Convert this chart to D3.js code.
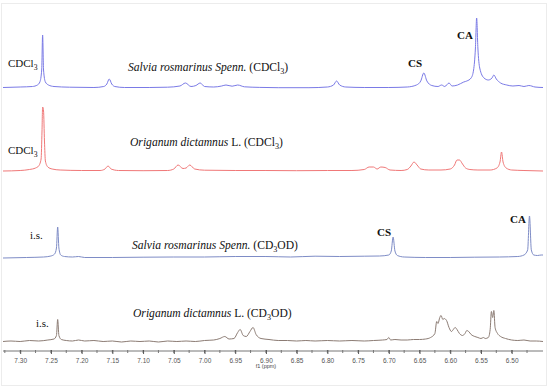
<!DOCTYPE html>
<html>
<head>
<meta charset="utf-8">
<script src="https://cdn.jsdelivr.net/npm/d3@7"></script>
<style>
  html, body { margin: 0; padding: 0; background: #fff; }
  svg text { font-family: "Liberation Serif", "Times New Roman", serif; }
</style>
</head>
<body>
<div id="chart"></div>
<script>
// chemical shift (ppm), intensity above baseline
const salviaCDCl3 = [
  [7.328,0.5],[7.300,1],[7.280,1.5],[7.272,3],[7.268,6],[7.265,18],[7.2635,53],[7.262,18],[7.259,6],[7.254,3],
  [7.245,1.5],[7.220,0.8],[7.180,0.5],[7.164,1.5],[7.159,4],[7.155,9],[7.151,4],[7.146,1.5],[7.130,0.5],[7.090,0.5],
  [7.060,0.8],[7.040,2],[7.031,5],[7.022,1.5],[7.014,2.5],[7.007,5],[7.000,1.5],[6.985,1],[6.972,2],[6.965,3],
  [6.955,1.8],[6.946,3],[6.935,1.2],[6.910,0.6],[6.880,0.3],[6.830,0.3],[6.800,1],[6.790,3],[6.785,7],[6.780,3],
  [6.770,1],[6.740,0.5],[6.700,0.5],[6.670,1],[6.655,3],[6.648,7],[6.643,15],[6.638,7],[6.630,2.5],[6.620,1.5],
  [6.614,3],[6.609,1.5],[6.602,5],[6.597,2],[6.588,3],[6.578,6],[6.573,7],[6.566,10],[6.562,18],[6.559,40],
  [6.557,70],[6.555,40],[6.552,20],[6.545,10],[6.538,8],[6.532,10],[6.529,13],[6.525,9],[6.518,5],[6.508,3],
  [6.498,2],[6.488,2.5],[6.480,1.5],[6.472,2.5],[6.462,1],[6.449,0.5]
];
const origanumCDCl3 = [
  [7.328,0],[7.300,0.5],[7.285,1.5],[7.275,3],[7.270,5],[7.266,12],[7.2645,40],[7.2635,64],[7.262,60],[7.2605,30],
  [7.259,10],[7.255,4],[7.248,2],[7.235,1],[7.200,0.5],[7.170,0.5],[7.162,2],[7.157,5],[7.152,2],[7.140,0.5],
  [7.100,0.3],[7.060,0.5],[7.050,2],[7.043,6],[7.035,2.5],[7.030,3],[7.024,6],[7.016,2],[7.000,0.8],[6.950,0.5],
  [6.900,0.5],[6.850,0.3],[6.800,0.5],[6.760,0.5],[6.740,1.5],[6.732,4],[6.725,4],[6.719,2],[6.713,4],[6.706,3.5],
  [6.698,1],[6.680,0.5],[6.670,1.5],[6.664,5],[6.659,9],[6.654,6],[6.648,2],[6.635,1],[6.615,1],[6.600,2],
  [6.593,6],[6.589,11],[6.585,11],[6.580,7],[6.575,3],[6.568,1.5],[6.555,1],[6.535,1],[6.524,3],[6.519,9],
  [6.5165,19],[6.514,9],[6.509,3],[6.500,1],[6.480,0.5],[6.449,0]
];
const salviaCD3OD = [
  [7.328,0],[7.290,0.5],[7.262,1],[7.250,2],[7.244,4],[7.241,10],[7.239,31],[7.237,10],[7.234,3],[7.228,1.5],
  [7.215,1],[7.205,1.5],[7.195,0.5],[7.150,0.5],[7.100,0.8],[7.050,1],[7.000,1],[6.950,1.5],[6.900,1.5],[6.860,1],
  [6.820,1.8],[6.780,1.5],[6.740,1.8],[6.715,2],[6.700,3],[6.696,7],[6.693,21],[6.690,7],[6.686,2.5],[6.675,1],
  [6.640,0.5],[6.600,0.5],[6.560,0.8],[6.520,1],[6.490,1.5],[6.480,3],[6.474,8],[6.471,42],[6.468,8],[6.464,3],
  [6.458,2.5],[6.452,3],[6.449,3]
];
const origanumCD3OD = [
  [7.328,0],[7.315,0.5],[7.300,0],[7.285,1],[7.270,0.5],[7.255,1.5],[7.245,2.5],[7.241,6],[7.239,22],[7.237,6],
  [7.233,2],[7.225,1],[7.215,0.5],[7.205,1.5],[7.195,0.5],[7.180,1],[7.165,0],[7.150,0.5],[7.135,-0.5],[7.120,0.5],
  [7.105,0],[7.090,0.5],[7.075,-0.5],[7.060,0.5],[7.045,0],[7.030,0.5],[7.015,0],[7.000,1],[6.985,1.5],[6.975,3],
  [6.967,5],[6.960,2.5],[6.952,3],[6.946,9],[6.942,12],[6.937,6],[6.932,5],[6.926,10],[6.921,14],[6.916,7],
  [6.908,3],[6.895,2],[6.880,1],[6.865,1],[6.850,0.5],[6.835,1],[6.820,0.5],[6.800,1],[6.780,0.5],[6.760,1],
  [6.740,0.5],[6.725,1],[6.710,1.5],[6.703,2],[6.700,4],[6.697,1.5],[6.690,2],[6.680,1.5],[6.670,1.5],[6.660,2],
  [6.650,2],[6.640,2.5],[6.632,4],[6.625,8],[6.622,20],[6.620,18],[6.617,24],[6.615,26],[6.612,22],[6.610,23],
  [6.606,21],[6.602,14],[6.598,10],[6.595,12],[6.592,14],[6.589,12],[6.585,8],[6.580,6],[6.576,8],[6.573,11],
  [6.570,10],[6.566,7],[6.560,5],[6.555,4],[6.550,3],[6.546,4],[6.543,3],[6.538,4],[6.535,12],[6.533,30],
  [6.531,24],[6.529,31],[6.527,14],[6.523,8],[6.518,5],[6.510,3],[6.500,1.5],[6.490,1],[6.480,1.5],[6.470,0.5],
  [6.460,0.5],[6.449,0]
];

const spectra = [salviaCDCl3, origanumCDCl3, salviaCD3OD, origanumCD3OD];
const solventLabels = [["CDCl", "3"], ["CDCl", "3"], ["i.s."], ["i.s."]];
const sampleNames = [
  [["Salvia rosmarinus Spenn.", "i"], [" (CDCl", ""], ["3", "sub"], [")", ""]],
  [["Origanum dictamnus", "i"], [" L. (CDCl", ""], ["3", "sub"], [")", ""]],
  [["Salvia rosmarinus Spenn.", "i"], [" (CD", ""], ["3", "sub"], ["OD)", ""]],
  [["Origanum dictamnus", "i"], [" L. (CD", ""], ["3", "sub"], ["OD)", ""]]
];
const compoundLabels = ["CS", "CA"];
const tickValues = d3.range(0, 17).map(i => +(7.30 - i * 0.05).toFixed(2));
const minorTicks = d3.range(0, 35).map(i => +(7.325 - i * 0.025).toFixed(3));

const W = 550, H = 390;
const colors = ["#7a7ae6", "#f07878", "#7e8cc6", "#8c7c74"];
const baselines = [88, 171, 258, 341.5];

const svg = d3.select("#chart").append("svg")
  .attr("width", W).attr("height", H);

svg.append("rect")
  .attr("x", 1.5).attr("y", 3.5).attr("width", 545).attr("height", 382)
  .attr("fill", "none").attr("stroke", "#ececec");

const x = d3.scaleLinear().domain([7.328, 6.449]).range([3, 543]);

spectra.forEach((data, k) => {
  const y = d3.scaleLinear().domain([0, 80]).range([baselines[k], baselines[k] - 80]);
  const line = d3.line()
    .x(d => x(d[0]))
    .y(d => y(d[1]))
    .curve(d3.curveMonotoneX);
  svg.append("path")
    .datum(data)
    .attr("d", line)
    .attr("fill", "none")
    .attr("stroke", colors[k])
    .attr("stroke-width", 1);
});

// subscript-aware text
function richText(g, px, py, parts, size) {
  const t = g.append("text").attr("x", px).attr("y", py)
    .style("font-size", size + "px").attr("fill", "#111");
  let shifted = false;
  parts.forEach(p => {
    const s = t.append("tspan").text(p[0]);
    if (p[1] === "i") s.style("font-style", "italic");
    if (p[1] === "sub") {
      s.attr("dy", 3).style("font-size", (size * 0.7) + "px");
      shifted = true;
    } else if (shifted) {
      s.attr("dy", -3);
      shifted = false;
    }
  });
  return t;
}

const solventPos = [[8, 67], [8, 154], [30, 239], [36, 327]];
solventLabels.forEach((lab, k) => {
  const parts = lab.length > 1 ? [[lab[0], ""], [lab[1], "sub"]] : [[lab[0], ""]];
  richText(svg, solventPos[k][0], solventPos[k][1], parts, 11);
});

const namePos = [[128, 71], [130, 146], [132, 249], [133, 317]];
sampleNames.forEach((parts, k) => {
  richText(svg, namePos[k][0], namePos[k][1], parts, 11.6);
});

// CS / CA markers above their peaks
const markerPos = [
  [[408, 67], [457, 39]],
  [[377, 236], [510, 223]]
];
markerPos.forEach(pair => pair.forEach((p, i) => {
  svg.append("text").attr("x", p[0]).attr("y", p[1])
    .style("font-size", "11px").style("font-weight", "bold")
    .attr("fill", "#111").text(compoundLabels[i]);
}));

// axis
const axisY = 351;
const axisG = svg.append("g").attr("transform", `translate(0,${axisY})`);
axisG.append("line").attr("x1", 3).attr("x2", 543).attr("stroke", "#777");
axisG.selectAll("line.minor").data(minorTicks).join("line")
  .attr("class", "minor")
  .attr("x1", d => x(d)).attr("x2", d => x(d))
  .attr("y1", -1).attr("y2", 2).attr("stroke", "#777");
const axis = d3.axisBottom(x).tickValues(tickValues).tickSize(3).tickPadding(4)
  .tickFormat(d3.format(".2f"));
const ax = axisG.append("g").call(axis);
ax.select(".domain").remove();
ax.selectAll(".tick line").attr("stroke", "#555").attr("y1", -1);
ax.selectAll(".tick text")
  .style("font-family", "'Liberation Sans', Arial, sans-serif")
  .style("font-size", "6.5px").attr("fill", "#555");

svg.append("text").attr("x", x(6.90)).attr("y", 368)
  .attr("text-anchor", "middle")
  .style("font-family", "'Liberation Sans', Arial, sans-serif")
  .style("font-size", "5.5px").attr("fill", "#444").text("f1 (ppm)");
</script>
</body>
</html>
